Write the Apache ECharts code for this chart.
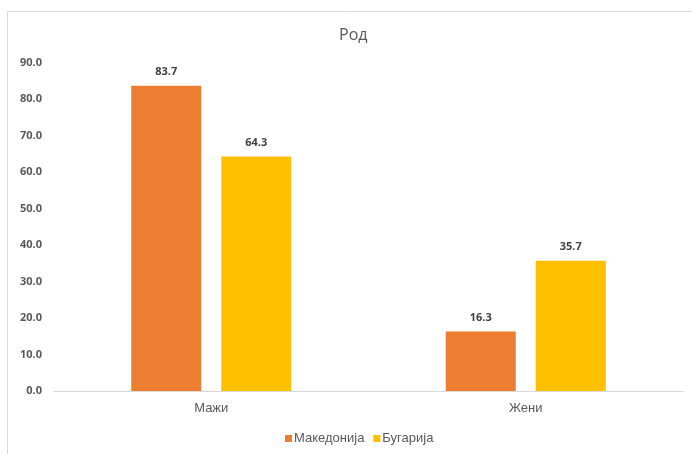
<!DOCTYPE html>
<html>
<head>
<meta charset="utf-8">
<style>
  html, body { margin: 0; padding: 0; background: #fff; }
  #chart { width: 692px; height: 454px; }
</style>
<script src="https://cdn.jsdelivr.net/npm/echarts@6/dist/echarts.min.js"></script>
</head>
<body>
<div id="chart"></div>
<script>
// Gender breakdown, percentages per country
const categories = ['Мажи', 'Жени'];
const seriesNames = ['Македонија', 'Бугарија'];
const macedoniaValues = [83.7, 16.3];
const bulgariaValues = [64.3, 35.7];
const yTicks = { min: 0, max: 90, interval: 10 };

const FONT = '"Liberation Sans Narrow", "Liberation Sans", Arial, sans-serif';
const BODY_FONT = '"Open Sans", "Liberation Sans", sans-serif';

const chart = echarts.init(document.getElementById('chart'));

const labelStyle = {
  show: true,
  position: 'top',
  distance: 8,
  color: '#404040',
  fontSize: 11,
  fontWeight: 'bold',
  fontFamily: BODY_FONT,
  formatter: p => p.value.toFixed(1)
};

chart.setOption({
  animation: false,
  graphic: [{
    type: 'rect',
    shape: { x: 7.5, y: 11.5, width: 720, height: 480 },
    style: { fill: 'none', stroke: '#d9d9d9', lineWidth: 1 },
    silent: true,
    z: -1
  }],
  title: {
    text: 'Род',
    left: 334,
    top: 22,
    textStyle: { color: '#595959', fontSize: 16, fontWeight: 'normal', fontFamily: BODY_FONT }
  },
  legend: {
    data: seriesNames,
    bottom: 4,
    left: 280,
    itemWidth: 7,
    itemHeight: 7,
    itemGap: 9,
    icon: 'rect',
    textStyle: { color: '#595959', fontSize: 13, fontFamily: FONT, padding: [0, 0, 0, -3] }
  },
  grid: { left: 54, right: 9, top: 62.7, bottom: 63, containLabel: false },
  xAxis: {
    type: 'category',
    data: categories,
    axisLine: { lineStyle: { color: '#d9d9d9', width: 1 } },
    axisTick: { show: false },
    axisLabel: { color: '#595959', fontSize: 13, fontFamily: FONT, margin: 11 }
  },
  yAxis: {
    type: 'value',
    min: yTicks.min,
    max: yTicks.max,
    interval: yTicks.interval,
    splitLine: { show: false },
    axisLine: { show: false },
    axisTick: { show: false },
    axisLabel: {
      color: '#595959',
      fontSize: 11,
      fontWeight: 'bold',
      fontFamily: BODY_FONT,
      margin: 12,
      formatter: v => v.toFixed(1)
    }
  },
  series: [
    {
      name: seriesNames[0],
      type: 'bar',
      data: macedoniaValues,
      barWidth: 70,
      barGap: '28.6%',
      itemStyle: { color: '#ED7D31' },
      label: labelStyle
    },
    {
      name: seriesNames[1],
      type: 'bar',
      data: bulgariaValues,
      barWidth: 70,
      barGap: '28.6%',
      itemStyle: { color: '#FFC000' },
      label: labelStyle
    }
  ]
});
</script>
</body>
</html>
